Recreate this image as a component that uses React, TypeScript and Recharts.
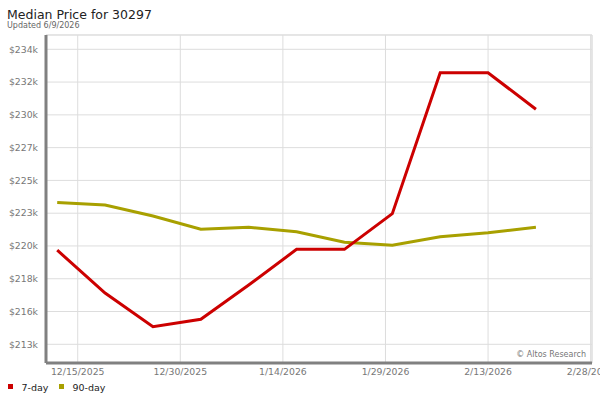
import { LineChart, Line, XAxis, YAxis, CartesianGrid, ReferenceLine } from 'recharts';

// weekly points
const dates = [
    '12/12/2025', '12/19/2025', '12/26/2025', '1/2/2026', '1/9/2026', '1/16/2026',
    '1/23/2026', '1/30/2026', '2/6/2026', '2/13/2026', '2/20/2026',
];
const sevenDay = [219900, 216850, 214450, 214980, 217420, 219960, 219960, 222500, 232530, 232530, 229930];
const ninetyDay = [223300, 223115, 222330, 221390, 221530, 221215, 220460, 220250, 220860, 221140, 221530];

const xTickDates = ['12/15/2025', '12/30/2025', '1/14/2026', '1/29/2026', '2/13/2026', '2/28/2026'];
const yTicks = [213200, 215533, 217867, 220200, 222533, 224867, 227200, 229533, 231867, 234200];

const RED = '#cc0000';
const OLIVE = '#a8a000';
const FONT = '"DejaVu Sans", sans-serif';

function dayNum(s: string) {
    const [m, d, y] = s.split('/').map(Number);
    return Date.UTC(y, m - 1, d) / 86400000;
}

const data = dates.map((d, i) => ({ day: dayNum(d), sevenDay: sevenDay[i], ninetyDay: ninetyDay[i] }));
const xTicks = xTickDates.map(dayNum);
const xDomain = [dayNum(dates[0]) - 1.64, dayNum('2/28/2026') + 0.2];
const yDomain = [211869, 235218];

const labelFor = (v: number) => xTickDates[xTicks.indexOf(v)] ?? '';

export default function App() {
    return (
        <div style={{ position: 'absolute', left: 0, top: 0, width: 600, height: 400, background: '#fff' }}>
            <LineChart width={600} height={400} data={data} margin={{ top: 35, right: 8, bottom: 0, left: 0 }}>
                <CartesianGrid stroke="#dddddd" />
                <ReferenceLine y={yDomain[1]} stroke="#dddddd" />
                <ReferenceLine x={xDomain[1]} stroke="#dddddd" />
                <XAxis
                    dataKey="day"
                    type="number"
                    domain={xDomain}
                    ticks={xTicks}
                    interval={0}
                    tickFormatter={labelFor}
                    height={37}
                    tickSize={0}
                    tickMargin={5}
                    tickLine={false}
                    axisLine={{ stroke: '#808080', strokeWidth: 3 }}
                    tick={{ fill: '#777', fontSize: 9.3, fontFamily: FONT }}
                    allowDataOverflow
                />
                <YAxis
                    type="number"
                    domain={yDomain}
                    ticks={yTicks}
                    interval={0}
                    tickFormatter={(v: number) => `$${Math.round(v / 1000)}k`}
                    width={46}
                    tickSize={0}
                    tickMargin={8}
                    tickLine={false}
                    axisLine={{ stroke: '#808080', strokeWidth: 3 }}
                    tick={{ fill: '#777', fontSize: 9.3, fontFamily: FONT }}
                    allowDataOverflow
                />
                <Line type="linear" dataKey="ninetyDay" stroke={OLIVE} strokeWidth={3} dot={false} isAnimationActive={false} />
                <Line type="linear" dataKey="sevenDay" stroke={RED} strokeWidth={3} dot={false} isAnimationActive={false} />
            </LineChart>
            <svg width={600} height={400} style={{ position: 'absolute', left: 0, top: 0, pointerEvents: 'none' }} fontFamily={FONT}>
                <text x={7} y={19} fontSize={12.5} fill="#222">Median Price for 30297</text>
                <text x={7} y={27.5} fontSize={8} fill="#666">Updated 6/9/2026</text>
                <text x={586} y={357} fontSize={8} fill="#777" textAnchor="end">© Altos Research</text>
                <rect x={8} y={384} width={5} height={5} fill={RED} />
                <text x={21.5} y={390.5} fontSize={9.5} fill="#222">7-day</text>
                <rect x={59} y={384} width={5} height={5} fill={OLIVE} />
                <text x={72.5} y={390.5} fontSize={9.5} fill="#222">90-day</text>
            </svg>
        </div>
    );
}
